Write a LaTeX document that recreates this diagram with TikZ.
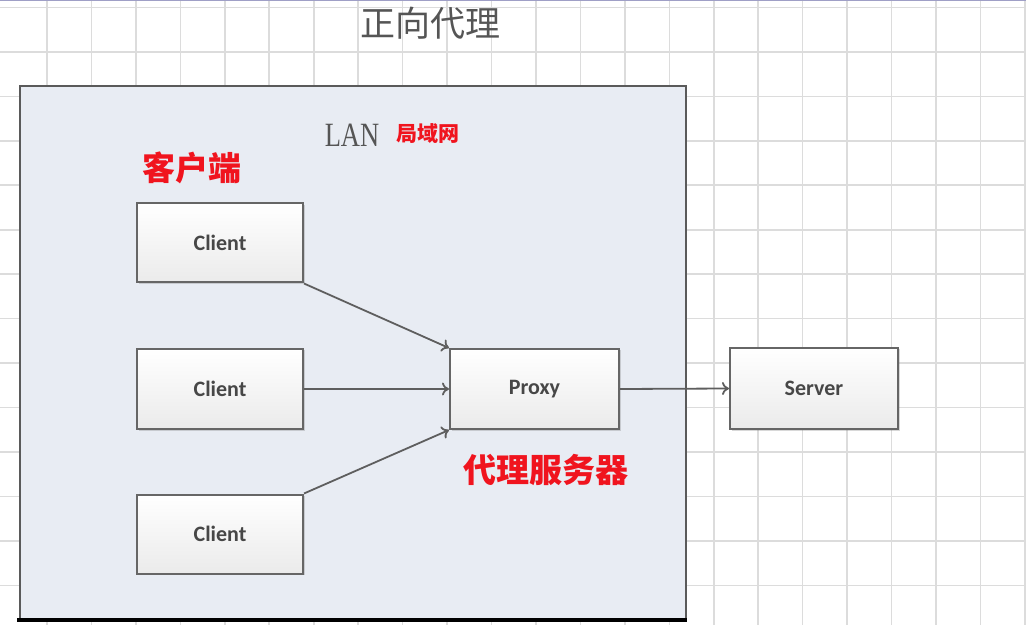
\documentclass[tikz,border=0pt]{standalone}
\usepackage{fontspec}
\setmainfont{Liberation Serif}
\newfontfamily\cjk{Noto Sans CJK SC}
\newfontfamily\boxfont{Carlito}
\usetikzlibrary{arrows.meta,shadows}
\definecolor{gridc}{HTML}{DCDCDC}
\definecolor{lanfill}{HTML}{E8ECF3}
\definecolor{lanborder}{HTML}{5A5A5A}
\definecolor{boxborder}{HTML}{666666}
\definecolor{redtxt}{HTML}{F0141E}
\definecolor{graytxt}{HTML}{555555}
\definecolor{arrowc}{HTML}{5E5E5E}
\tikzset{
  boxnode/.style={draw=boxborder, line width=2pt, top color=white, bottom color=black!8,
    minimum width=166pt, minimum height=79pt, inner sep=0pt,
    font=\boxfont\bfseries\fontsize{22}{24}\selectfont, text=black!72,
    drop shadow={shadow xshift=1.5pt, shadow yshift=-1.5pt, opacity=0.25, fill=black!60}},
  redlabel/.style={text=redtxt, font=\cjk\bfseries\fontsize{33}{36}\selectfont, inner sep=0pt},
  conn/.style={draw=arrowc, line width=1.8pt, -{To[length=7pt,width=13pt]}}
}
\begin{document}
\begin{tikzpicture}[x=1pt,y=-1pt]
\useasboundingbox (0,0) rectangle (1026,636);
\fill[white] (0,0) rectangle (1026,636);
% grid
\foreach \k in {0,...,22} {
  \draw[gridc, line width=1.6pt] ({47+44.45*\k},0) -- ({47+44.45*\k},625);
}
\foreach \k in {0,...,13} {
  \draw[gridc, line width=1.6pt] (0,{7.5+44.45*\k}) -- (1026,{7.5+44.45*\k});
}
\draw[color=blue!25!gray!60, line width=1.5pt] (0,0.6) -- (1026,0.6);
% title
\node[text=graytxt, font=\cjk\fontsize{35}{38}\selectfont, inner sep=0pt] (title) at (430,23) {正向代理};
% LAN box
\node[draw=lanborder, fill=lanfill, line width=2.2pt, minimum width=666pt, minimum height=534pt, inner sep=0pt] (lan) at (353,353) {};
\draw[black, line width=4pt] (17,620) -- (687,620);
\node[text=graytxt, font=\fontsize{34}{36}\selectfont, xscale=0.78, transform shape, inner sep=0pt] (lantxt) at (352,135) {LAN};
\node[text=redtxt, font=\cjk\bfseries\fontsize{21}{24}\selectfont, inner sep=0pt] (lancn) at (428,134) {局域网};
\node[redlabel] (clientcn) at (192,168) {客户端};
% boxes
\node[boxnode] (c1) at (220,243) {Client};
\node[boxnode, minimum height=80pt] (c2) at (220,389) {Client};
\node[boxnode] (c3) at (220,534) {Client};
\node[boxnode, minimum width=169pt, minimum height=80pt] (proxy) at (534.5,389) {Proxy};
\node[boxnode, minimum width=168pt, minimum height=81pt] (server) at (814,388.5) {Server};
\node[redlabel] (proxycn) at (546,470) {代理服务器};
% connectors
\draw[conn] (c1.south east) -- (proxy.north west);
\draw[conn] (c2.east) -- (proxy.west);
\draw[conn] (c3.north east) -- (proxy.south west);
\draw[conn] (proxy.east) -- (server.west);
\end{tikzpicture}
\end{document}
